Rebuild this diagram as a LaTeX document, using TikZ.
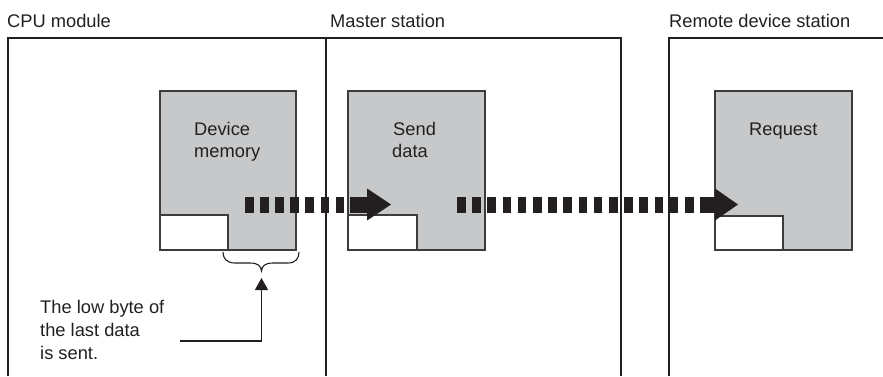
\documentclass[tikz,border=0pt]{standalone}
\usepackage{fontspec}
\setmainfont{Liberation Sans}
\usetikzlibrary{arrows.meta}
\definecolor{ink}{HTML}{231F20}
\definecolor{boxgray}{HTML}{C7C8CA}
\definecolor{edge}{HTML}{3C3C3C}
\tikzset{
  x=1pt, y=1pt,
  txt/.style={inner sep=0pt, anchor=base west, text=ink, font=\fontsize{18.3}{22}\selectfont},
  frame/.style={draw=ink, line width=1.9pt},
  thinframe/.style={draw=ink, line width=1.2pt},
  membox/.style={draw=edge, fill=boxgray, line width=1.2pt},
  bytebox/.style={draw=edge, fill=white, line width=1.2pt},
  dotshaft/.style={draw=ink, line width=16pt, line cap=butt, dash pattern=on 8.5pt off 6.6pt},
  callout/.style={draw=ink, line width=1.2pt, -{Triangle[length=12pt,width=13pt]}},
}
\begin{document}
\begin{tikzpicture}
\useasboundingbox (0,0) rectangle (883,376);
% titles
\node[txt] (tcpu) at (7,348.7) {CPU module};
\node[txt] (tmaster) at (330,348.7) {Master station};
\node[txt] (tremote) at (669,348.7) {Remote device station};
% frames
\draw[frame] (8,0) -- (8,338) -- (621,338) -- (621,0);
\draw[thinframe] (326,338) -- (326,0);
\draw[frame] (669,0) -- (669,338) -- (884,338);
% memory boxes
\draw[membox] (160,126) rectangle (296,285);
\draw[bytebox] (160,126) rectangle (228,161);
\draw[membox] (348,126) rectangle (485,285);
\draw[bytebox] (348,126) rectangle (417,161);
\draw[membox] (715,126) rectangle (852,285);
\draw[bytebox] (715,126) rectangle (783,160);
% box texts
\node[txt] (dev1) at (194,241) {Device};
\node[txt] (dev2) at (194,219) {memory};
\node[txt] (snd1) at (393,241) {Send};
\node[txt] (snd2) at (392,219) {data};
\node[txt] (req) at (749,241) {Request};
% dotted arrows
\coordinate (a1s) at (245,171.5);
\coordinate (a1m) at (350,171.5);
\coordinate (a1b) at (367,171.5);
\coordinate (a1t) at (391,171.5);
\draw[dotshaft] (a1s) -- (a1m);
\fill[ink] ([yshift=-8pt]a1m) rectangle ([yshift=8pt,xshift=0.5pt]a1b);
\fill[ink] ([yshift=-16pt]a1b) -- (a1t) -- ([yshift=16pt]a1b) -- cycle;
\coordinate (a2s) at (457,171.5);
\coordinate (a2m) at (700,171.5);
\coordinate (a2b) at (715,171.5);
\coordinate (a2t) at (738,171.5);
\draw[dotshaft, dash pattern=on 8.5pt off 6.7pt] (a2s) -- (a2m);
\fill[ink] ([yshift=-8pt]a2m) rectangle ([yshift=8pt,xshift=0.5pt]a2b);
\fill[ink] ([yshift=-16pt]a2b) -- (a2t) -- ([yshift=16pt]a2b) -- cycle;
% brace under the low byte
\draw[ink, line width=1.1pt] (223,124) .. controls (223,118) and (226,113) .. (235,113)
  -- (250,113) .. controls (258,113) and (261,110) .. (261.5,105)
  .. controls (262,110) and (265,113) .. (273,113)
  -- (288,113) .. controls (296,113) and (299,118) .. (299,124);
% label
\node[txt] (lab1) at (40,63) {The low byte of};
\node[txt] (lab2) at (40,40) {the last data};
\node[txt] (lab3) at (40,17) {is sent.};
\coordinate (lstart) at (180,35);
\coordinate (ltip) at (261.5,98);
\draw[callout] (lstart) -| (ltip);
\end{tikzpicture}
\end{document}
